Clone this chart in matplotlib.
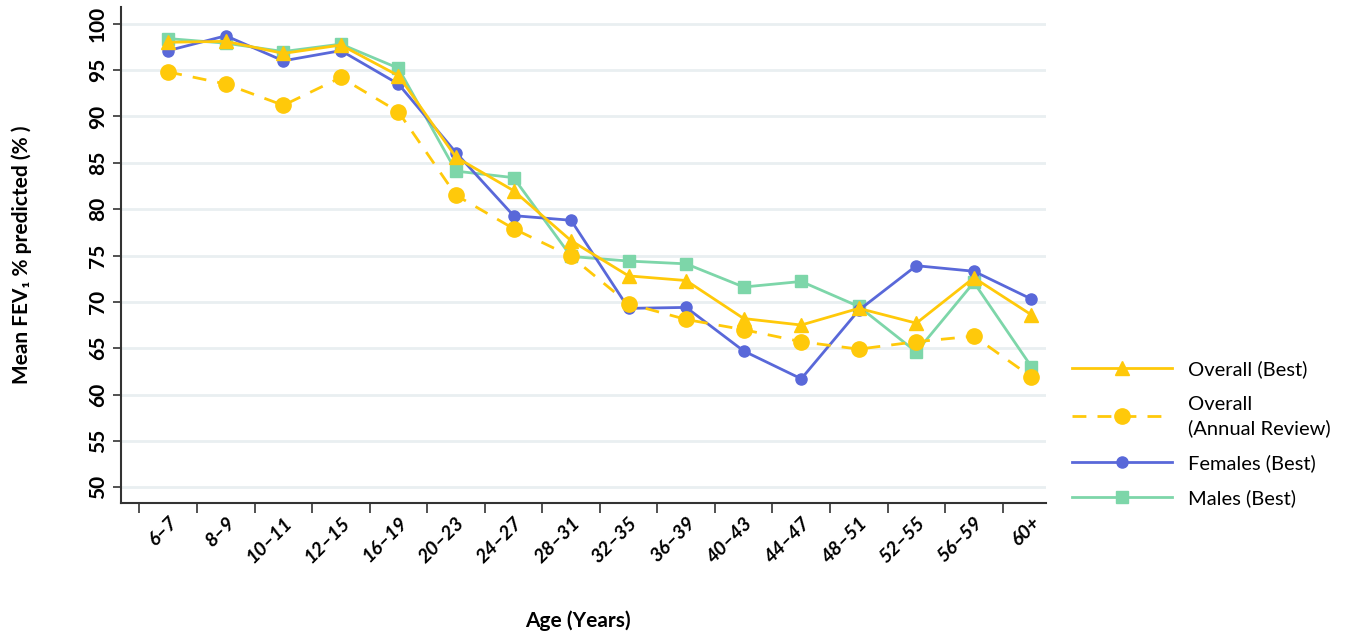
import numpy as np
import matplotlib.pyplot as plt

ages = ["6–7", "8–9", "10–11", "12–15", "16–19", "20–23", "24–27", "28–31",
        "32–35", "36–39", "40–43", "44–47", "48–51", "52–55", "56–59", "60+"]

overall_best = [98.0, 98.1, 96.8, 97.7, 94.4, 85.6, 82.0, 76.6,
                72.8, 72.3, 68.2, 67.5, 69.3, 67.7, 72.6, 68.6]
overall_annual = [94.8, 93.5, 91.2, 94.2, 90.5, 81.5, 77.9, 74.9,
                  69.8, 68.1, 67.0, 65.7, 64.9, 65.7, 66.3, 61.9]
females_best = [97.1, 98.7, 96.0, 97.1, 93.5, 86.1, 79.3, 78.8,
                69.3, 69.4, 64.7, 61.7, 69.1, 73.9, 73.3, 70.3]
males_best = [98.4, 97.9, 97.0, 97.8, 95.2, 84.1, 83.4, 74.9,
              74.4, 74.1, 71.6, 72.2, 69.5, 64.6, 72.1, 63.0]

YELLOW = "#FFC90A"
BLUE = "#5968D9"
GREEN = "#7DD6A9"

plt.rcParams['font.family'] = ['Lato', 'DejaVu Sans']

fig = plt.figure(figsize=(13.54, 6.4), dpi=100)
ax = fig.add_axes([0.0894, 0.214, 0.683, 0.775])

x = np.arange(len(ages))

# draw order so overall lines sit on top
h_m, = ax.plot(x, males_best, color=GREEN, lw=2, marker="s", ms=8, zorder=3,
               label="Males (Best)")
h_f, = ax.plot(x, females_best, color=BLUE, lw=2, marker="o", ms=8, zorder=4,
               label="Females (Best)")
h_a, = ax.plot(x, overall_annual, color=YELLOW, lw=2, marker="o", ms=11, zorder=5,
               dashes=(5, 4), label="Overall\n(Annual Review)")
h_b, = ax.plot(x, overall_best, color=YELLOW, lw=2, marker="^", ms=10, zorder=6,
               label="Overall (Best)")

ax.set_ylim(48.3, 101.8)
ax.set_xlim(-0.82, 15.25)
ax.set_yticks(np.arange(50, 101, 5))
ax.yaxis.grid(True, color="#E9EFF1", lw=2)
ax.set_axisbelow(True)

ax.set_xticks(x)
ax.set_xticks(x - 0.5, minor=True)
ax.tick_params(axis="x", which="major", length=0, pad=8)
ax.tick_params(axis="x", which="minor", length=7, width=1.2, color="#333333")
ax.tick_params(axis="y", length=6, width=1.2, color="#333333")
ax.set_xticklabels(ages, rotation=45, ha="right", rotation_mode="anchor",
                   fontsize=14, fontweight="bold", fontstyle="italic")
for lab in ax.get_yticklabels():
    lab.set_rotation(90)
    lab.set_va("center")
    lab.set_fontsize(15)
    lab.set_fontweight("bold")

for s in ["top", "right"]:
    ax.spines[s].set_visible(False)
for s in ["left", "bottom"]:
    ax.spines[s].set_color("#333333")
    ax.spines[s].set_linewidth(1.5)

ax.set_ylabel("Mean FEV₁ % predicted (% )", fontsize=15, fontweight="bold", labelpad=40)
fig.text(0.427, 0.02, "Age (Years)", fontsize=15, fontweight="bold", ha="center")

leg = fig.legend(handles=[h_b, h_a, h_f, h_m], loc="upper left",
                 bbox_to_anchor=(0.778, 0.465), frameon=False, fontsize=14.5,
                 handlelength=5.0, labelspacing=0.85, handletextpad=0.8)
for t in leg.get_texts():
    t.set_linespacing(1.45)

fig.savefig("out.png", dpi=100)
